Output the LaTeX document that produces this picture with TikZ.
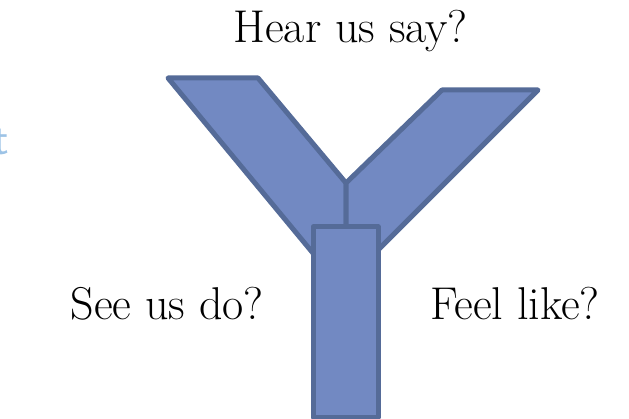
\documentclass[tikz,border=0pt]{standalone}
\definecolor{yfill}{RGB}{114,137,194}
\definecolor{yline}{RGB}{85,107,152}
\definecolor{faint}{RGB}{157,195,230}
\tikzset{
  arm/.style={draw=yline,fill=yfill,line width=5pt,line join=round},
  ytext/.style={font=\fontsize{46}{55}\selectfont,inner sep=0pt}
}
\begin{document}
\begin{tikzpicture}[x=1pt,y=-1pt]
  \useasboundingbox (0,0) rectangle (629,419);
  % Coordinates
  \coordinate (A) at (168,78);
  \coordinate (B) at (258,78);
  \coordinate (J) at (346,183);
  \coordinate (C) at (346,293);
  \coordinate (D) at (442,90);
  \coordinate (E) at (538,90);
  \coordinate (F) at (346,282);
  \coordinate (G) at (313,227);
  \coordinate (H) at (378,417);

  % Drawing
  \draw[arm] (A) -- (B) -- (J) -- (C) -- cycle;
  \draw[arm] (D) -- (E) -- (F) -- (J) -- cycle;
  \draw[arm] (G) rectangle (H);

  % Texts
  \node[ytext,anchor=base east] (say) at (468,43) {Hear us say?};
  \node[ytext,anchor=base east] (see) at (264,320) {See us do?};
  \node[ytext,anchor=base west] (feel) at (430,320) {Feel like?};
  \node[font=\sffamily\fontsize{46}{55}\selectfont,text=faint,inner sep=0pt,anchor=base east] (cut) at (9,155) {t};
\end{tikzpicture}
\end{document}
